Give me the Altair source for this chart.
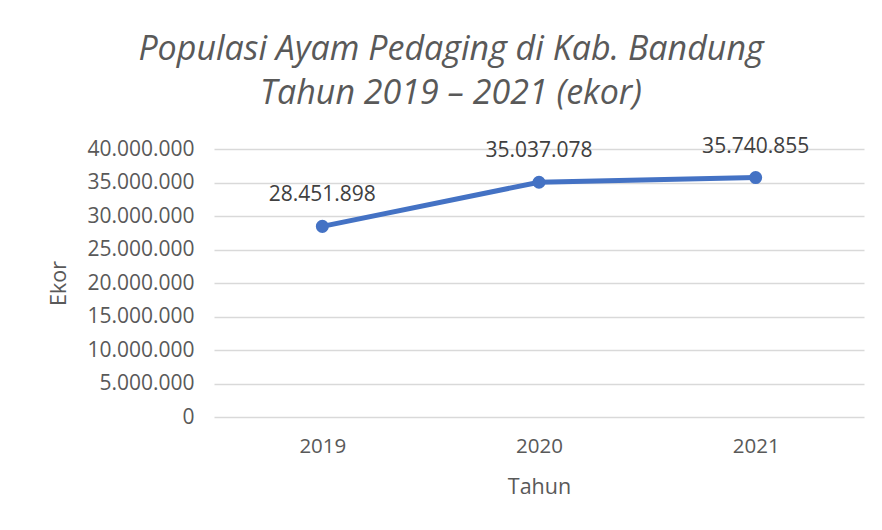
import altair as alt
import pandas as pd

years = ["2019", "2020", "2021"]
values = [28451898, 35037078, 35740855]
y_ticks = [0, 5000000, 10000000, 15000000, 20000000, 25000000, 30000000, 35000000, 40000000]

df = pd.DataFrame({"Tahun": years, "Ekor": values})

FONT = "Open Sans"
GREY = "#595959"
BLUE = "#4472C4"

base = alt.Chart(df).encode(
    x=alt.X("Tahun:N", title="Tahun", sort=years,
            scale=alt.Scale(paddingInner=0, paddingOuter=0, align=0.5),
            axis=alt.Axis(labelAngle=0, labelFontSize=20.5, labelColor=GREY, labelFont=FONT,
                          titleFontSize=21.5, titleColor=GREY, titleFont=FONT, titleFontWeight="normal",
                          labelPadding=19, titlePadding=20, ticks=False, domain=False, grid=False)),
    y=alt.Y("Ekor:Q", title="Ekor",
            scale=alt.Scale(domain=[0, 40000000], nice=False),
            axis=alt.Axis(values=y_ticks, format=",.0f", labelFontSize=21, labelColor=GREY, labelFont=FONT,
                          titleFontSize=21.5, titleColor=GREY, titleFont=FONT, titleFontWeight="normal",
                          labelPadding=20, titlePadding=16, ticks=False, domain=False,
                          grid=True, gridColor="#d9d9d9", gridWidth=1.5)),
)

line = base.mark_line(color=BLUE, strokeWidth=5)
points = base.mark_circle(color=BLUE, size=170, opacity=1)
labels = base.mark_text(dy=-31, fontSize=21, color="#404040", font=FONT).encode(
    text=alt.Text("Ekor:Q", format=",.0f")
)

chart = (line + points + labels).properties(
    width=650,
    height=268,
    padding={"left": 206, "top": 141, "right": 8, "bottom": 100},
    autosize=alt.AutoSizeParams(type="none"),
    title=alt.TitleParams(
        text=["Populasi Ayam Pedaging di Kab. Bandung", "Tahun 2019 – 2021 (ekor)"],
        fontSize=34, font=FONT, fontStyle="italic", fontWeight="normal", color=GREY,
        anchor="middle", dx=-88, offset=25, lineHeight=44,
    ),
).configure(
    locale=alt.Locale(number=alt.NumberLocale(decimal=",", thousands=".", grouping=[3], currency=["", ""]))
).configure_view(stroke=None)

chart.save("out.html", embed_options={"renderer": "svg", "actions": False})
